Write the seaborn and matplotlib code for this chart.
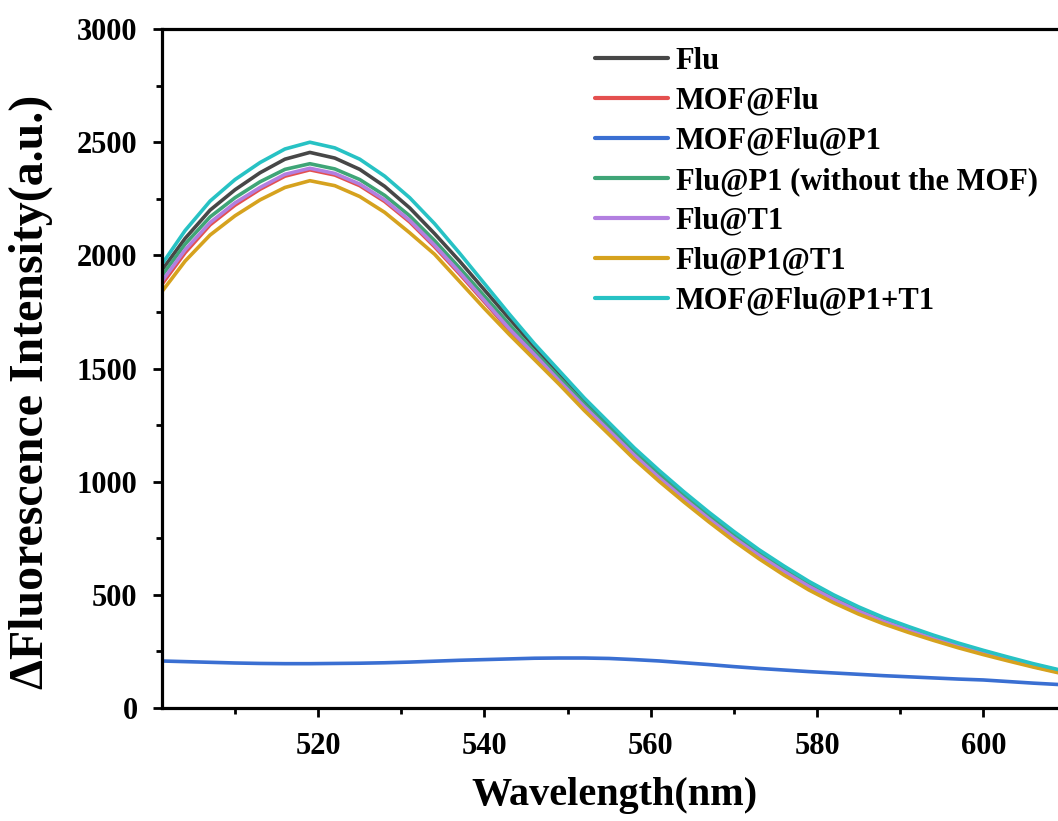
import numpy as np
import pandas as pd
import matplotlib
matplotlib.use('Agg')
import matplotlib.pyplot as plt
import seaborn as sns
from matplotlib.ticker import MultipleLocator

# wavelength grid (nm), every 3 nm
wavelength = [501, 504, 507, 510, 513, 516, 519, 522, 525, 528, 531, 534, 537,
              540, 543, 546, 549, 552, 555, 558, 561, 564, 567, 570, 573, 576,
              579, 582, 585, 588, 591, 594, 597, 600, 603, 606, 609]

flu = [1925, 2075, 2200, 2290, 2365, 2425, 2455, 2430, 2380, 2305, 2210, 2096, 1975,
       1847, 1720, 1596, 1478, 1360, 1250, 1140, 1040, 945, 855, 770, 692, 620,
       553, 493, 441, 394, 355, 317, 282, 251, 221, 192, 167]
mof_flu = [1862, 2012, 2135, 2222, 2292, 2350, 2378, 2355, 2308, 2238, 2148, 2038, 1918,
           1794, 1669, 1556, 1440, 1327, 1220, 1114, 1014, 921, 832, 749, 672, 601,
           535, 477, 426, 381, 342, 305, 272, 241, 212, 184, 159]
mof_flu_p1 = [208, 205, 202, 199, 197, 196, 196, 197, 198, 200, 203, 207, 211,
              214, 217, 220, 221, 221, 219, 214, 208, 200, 192, 183, 175, 168,
              161, 155, 149, 143, 138, 133, 128, 124, 117, 110, 104]
flu_p1 = [1900, 2050, 2170, 2255, 2325, 2380, 2405, 2382, 2335, 2265, 2175, 2065, 1945,
          1820, 1695, 1575, 1460, 1345, 1237, 1130, 1030, 937, 848, 764, 686, 615,
          548, 489, 437, 391, 352, 314, 280, 249, 219, 190, 165]
flu_t1 = [1875, 2025, 2145, 2232, 2300, 2358, 2385, 2362, 2315, 2245, 2155, 2045, 1925,
          1800, 1675, 1562, 1445, 1332, 1225, 1118, 1018, 925, 836, 752, 675, 604,
          538, 480, 428, 383, 344, 307, 274, 243, 214, 186, 161]
flu_p1_t1 = [1830, 1975, 2090, 2175, 2245, 2300, 2330, 2308, 2260, 2190, 2100, 2005, 1885,
             1765, 1650, 1540, 1430, 1315, 1208, 1100, 1002, 910, 822, 738, 660, 588,
             522, 465, 415, 372, 334, 299, 266, 236, 208, 181, 156]
mof_flu_p1_t1 = [1950, 2110, 2240, 2335, 2410, 2470, 2500, 2475, 2425, 2350, 2255, 2140, 2010,
                 1875, 1740, 1610, 1490, 1370, 1260, 1150, 1050, 955, 865, 780, 700, 628,
                 560, 500, 447, 400, 360, 322, 287, 255, 225, 196, 170]

labels = ['Flu', 'MOF@Flu', 'MOF@Flu@P1', 'Flu@P1 (without the MOF)',
          'Flu@T1', 'Flu@P1@T1', 'MOF@Flu@P1+T1']
colors = ['#474747', '#e4504f', '#3a6fd2', '#3fa577', '#b27fe0', '#d6a21e', '#27c2c4']
series = [flu, mof_flu, mof_flu_p1, flu_p1, flu_t1, flu_p1_t1, mof_flu_p1_t1]

df = pd.concat([pd.DataFrame({'Wavelength': wavelength, 'Intensity': s, 'Sample': lab})
                for s, lab in zip(series, labels)], ignore_index=True)

sns.set_theme(style='ticks')
plt.rcParams['font.family'] = ['Liberation Serif', 'DejaVu Serif']
plt.rcParams['font.weight'] = 'bold'
for key in ['text.color', 'axes.labelcolor', 'xtick.color', 'ytick.color']:
    plt.rcParams[key] = 'black'

fig = plt.figure(figsize=(10.58, 8.21), dpi=100)
ax = fig.add_axes([0.153, 0.1376, 0.855, 0.827])

sns.lineplot(data=df, x='Wavelength', y='Intensity', hue='Sample',
             hue_order=labels, palette=colors, linewidth=2.6, ax=ax, legend=True)

ax.set_xlim(501.2, 610)
ax.set_ylim(0, 3000)
ax.xaxis.set_major_locator(MultipleLocator(20))
ax.xaxis.set_minor_locator(MultipleLocator(10))
ax.yaxis.set_major_locator(MultipleLocator(500))
ax.yaxis.set_minor_locator(MultipleLocator(250))

for side in ['left', 'top', 'bottom']:
    ax.spines[side].set_linewidth(2.3)
    ax.spines[side].set_color('black')
ax.spines['right'].set_visible(False)
ax.tick_params(which='major', direction='out', length=6.5, width=2, labelsize=22,
               pad=11, top=False, right=False)
ax.tick_params(which='minor', direction='out', length=4, width=2, top=False, right=False)
for lab in ax.get_xticklabels() + ax.get_yticklabels():
    lab.set_fontweight('bold')

ax.set_xlabel('Wavelength(nm)', fontsize=29, fontweight='bold', labelpad=11)
ax.set_ylabel('ΔFluorescence Intensity(a.u.)', fontsize=34.5, fontweight='bold', labelpad=17)
ax.yaxis.label.set_y(0.465)

leg = ax.legend(loc='upper left', bbox_to_anchor=(0.562, 0.943), bbox_transform=fig.transFigure,
                frameon=False, fontsize=22, handlelength=2.4, handletextpad=0.25,
                labelspacing=0.36, borderpad=0, borderaxespad=0)
for line in leg.get_lines():
    line.set_linewidth(3)
for t in leg.get_texts():
    t.set_fontweight('bold')

fig.savefig('out.png', dpi=100)
